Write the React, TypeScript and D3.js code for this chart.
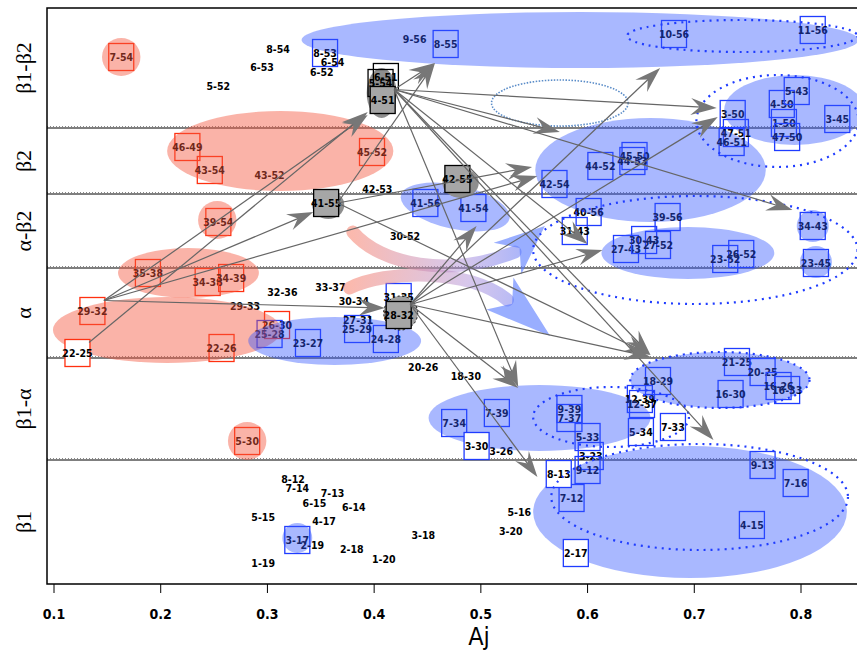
import React, { Component } from 'react';
import * as d3 from 'd3';

// y bands (bottom to top) and their edges in plot units
const bandNames = ['β1', 'β1-α', 'α', 'α-β2', 'β2', 'β1-β2'];
const bandEdges = [0, 12.4, 22.6, 31.6, 39.0, 45.6, 57.6];
const xTicks = [0.1, 0.2, 0.3, 0.4, 0.5, 0.6, 0.7, 0.8];

// boxed pairs: label, Aj, position, colour (r/b/k), fill ('' none, g grey, k grey layer, w white)
const boxes = [
  ['7-54', 0.163, 52.7, 'r', ''],
  ['8-53', 0.354, 53.1, 'b', ''],
  ['8-55', 0.467, 54.0, 'b', ''],
  ['10-56', 0.681, 55.0, 'b', ''],
  ['11-56', 0.811, 55.4, 'b', ''],
  ['3-50', 0.736, 47.0, 'b', ''],
  ['47-51', 0.739, 45.1, 'b', ''],
  ['46-51', 0.735, 44.2, 'b', ''],
  ['4-50', 0.782, 48.0, 'b', ''],
  ['5-43', 0.796, 49.3, 'b', ''],
  ['1-50', 0.784, 46.1, 'b', ''],
  ['47-50', 0.787, 44.7, 'b', ''],
  ['3-45', 0.834, 46.5, 'b', ''],
  ['46-49', 0.225, 43.7, 'r', ''],
  ['43-54', 0.246, 41.4, 'r', ''],
  ['45-52', 0.398, 43.2, 'r', ''],
  ['42-54', 0.569, 40.0, 'b', ''],
  ['44-52', 0.612, 41.8, 'b', ''],
  ['45-50', 0.644, 42.8, 'b', ''],
  ['44-53', 0.642, 42.3, 'b', ''],
  ['39-54', 0.254, 36.2, 'r', ''],
  ['41-56', 0.448, 38.1, 'b', ''],
  ['41-54', 0.493, 37.6, 'b', ''],
  ['31-43', 0.588, 35.3, 'b', ''],
  ['40-56', 0.601, 37.2, 'b', ''],
  ['39-56', 0.675, 36.7, 'b', ''],
  ['27-43', 0.636, 33.5, 'b', ''],
  ['30-43', 0.653, 34.4, 'b', ''],
  ['27-52', 0.666, 33.9, 'b', ''],
  ['23-52', 0.729, 32.5, 'b', ''],
  ['26-52', 0.744, 33.0, 'b', ''],
  ['34-43', 0.811, 35.8, 'b', ''],
  ['23-45', 0.814, 32.1, 'b', ''],
  ['35-38', 0.188, 31.1, 'r', ''],
  ['34-38', 0.244, 30.2, 'r', ''],
  ['34-39', 0.266, 30.6, 'r', ''],
  ['29-32', 0.136, 27.3, 'r', ''],
  ['22-25', 0.122, 23.1, 'r', 'w'],
  ['22-26', 0.257, 23.6, 'r', ''],
  ['26-30', 0.309, 25.9, 'r', ''],
  ['25-28', 0.302, 25.0, 'b', ''],
  ['23-27', 0.338, 24.1, 'b', ''],
  ['31-35', 0.423, 28.7, 'b', ''],
  ['25-29', 0.384, 25.5, 'b', ''],
  ['24-28', 0.411, 24.5, 'b', ''],
  ['5-30', 0.281, 14.3, 'r', ''],
  ['7-34', 0.475, 16.1, 'b', ''],
  ['7-39', 0.515, 17.1, 'b', ''],
  ['3-30', 0.496, 13.8, 'b', 'w'],
  ['21-25', 0.740, 22.2, 'b', ''],
  ['20-25', 0.764, 21.2, 'b', ''],
  ['18-29', 0.666, 20.3, 'b', ''],
  ['16-30', 0.734, 19.0, 'b', ''],
  ['16-26', 0.779, 19.8, 'b', ''],
  ['16-33', 0.787, 19.4, 'b', ''],
  ['12-39', 0.649, 18.5, 'b', ''],
  ['12-37', 0.651, 18.0, 'b', ''],
  ['9-39', 0.583, 17.5, 'b', ''],
  ['7-37', 0.583, 16.6, 'b', ''],
  ['5-33', 0.600, 14.7, 'b', ''],
  ['5-34', 0.650, 15.2, 'b', ''],
  ['7-33', 0.680, 15.7, 'b', ''],
  ['3-23', 0.603, 12.8, 'b', ''],
  ['9-12', 0.600, 11.4, 'b', ''],
  ['8-13', 0.573, 11.0, 'b', 'w'],
  ['7-12', 0.585, 8.6, 'b', ''],
  ['2-17', 0.589, 3.1, 'b', 'w'],
  ['9-13', 0.764, 11.9, 'b', ''],
  ['7-16', 0.795, 10.1, 'b', ''],
  ['4-15', 0.754, 5.9, 'b', ''],
  ['3-17', 0.328, 4.4, 'b', ''],
  ['6-51', 0.411, 50.7, 'k', 'k'],
  ['5-54', 0.406, 50.1, 'k', 'k'],
  ['4-51', 0.408, 48.4, 'k', 'g'],
  ['42-55', 0.478, 40.5, 'k', 'g'],
  ['41-55', 0.355, 38.1, 'k', 'g'],
  ['28-32', 0.423, 26.9, 'k', 'g'],
];

// pairs without a box
const labels = [
  ['8-54', 0.310, 53.5], ['6-53', 0.295, 51.7], ['5-52', 0.254, 49.8],
  ['6-54', 0.361, 52.2], ['6-52', 0.351, 51.2], ['9-56', 0.438, 54.5],
  ['4-52', 0.537, 48.8], ['3-52', 0.604, 47.4], ['43-52', 0.302, 40.9],
  ['42-53', 0.403, 39.5], ['30-52', 0.429, 34.8], ['32-36', 0.314, 29.2],
  ['33-37', 0.359, 29.7], ['29-33', 0.279, 27.8], ['30-34', 0.381, 28.3],
  ['27-31', 0.385, 26.4], ['20-26', 0.446, 21.7], ['18-30', 0.486, 20.8],
  ['3-26', 0.519, 13.3], ['8-12', 0.324, 10.5], ['7-14', 0.328, 9.6],
  ['7-13', 0.361, 9.1], ['6-15', 0.344, 8.1], ['6-14', 0.381, 7.7],
  ['5-15', 0.296, 6.7], ['4-17', 0.353, 6.3], ['2-19', 0.342, 3.9],
  ['2-18', 0.379, 3.5], ['1-20', 0.409, 2.5], ['1-19', 0.296, 2.1],
  ['3-18', 0.446, 4.9], ['5-16', 0.536, 7.2], ['3-20', 0.528, 5.3],
];

// group shading: Aj, position, half-width (Aj), half-height, kind, tilt
const groups = [
  [0.163, 52.7, 0.018, 1.9, 'red', 0],
  [0.312, 43.3, 0.106, 4.0, 'red', 0],
  [0.253, 36.4, 0.018, 1.9, 'red', 0],
  [0.226, 31.1, 0.066, 2.5, 'red', 0],
  [0.206, 25.4, 0.107, 3.3, 'red', 0],
  [0.281, 14.3, 0.018, 1.9, 'red', 0],
  [0.593, 54.4, 0.261, 2.8, 'blue', 0],
  [0.794, 47.4, 0.066, 3.5, 'blue', 0],
  [0.659, 41.4, 0.108, 5.2, 'blue', 0],
  [0.476, 37.7, 0.052, 2.2, 'blue', 12],
  [0.694, 33.1, 0.081, 2.6, 'blue', 0],
  [0.811, 35.8, 0.015, 1.6, 'blue', 0],
  [0.814, 32.2, 0.015, 1.6, 'blue', 0],
  [0.363, 24.3, 0.081, 2.4, 'blue', 0],
  [0.555, 16.6, 0.104, 3.3, 'blue', 0],
  [0.724, 20.4, 0.084, 2.8, 'blue', 0],
  [0.696, 7.2, 0.147, 6.6, 'blue', 0],
  [0.328, 4.6, 0.014, 1.5, 'blue', 0],
];
const dottedRings = [
  [0.745, 54.8, 0.108, 1.6],
  [0.778, 46.3, 0.076, 4.6],
  [0.701, 33.4, 0.152, 5.4],
  [0.622, 16.7, 0.073, 3.0],
  [0.724, 20.4, 0.084, 2.8],
  [0.705, 8.7, 0.139, 5.3],
];
const skyRing = [0.574, 48.1, 0.064, 2.3];
const greyBlobs = [
  [0.407, 49.1, 0.014, 2.5],
  [0.481, 40.1, 0.017, 1.5],
  [0.357, 37.9, 0.015, 1.4],
];

// transitions: from pair, arrow tip (Aj, position)
const arrows = [
  ['22-25', 0.394, 47.2], ['29-32', 0.394, 46.9], ['29-32', 0.343, 37.2],
  ['29-32', 0.553, 40.8], ['29-32', 0.410, 27.6],
  ['41-55', 0.457, 52.1], ['41-55', 0.548, 41.7], ['41-55', 0.659, 22.9],
  ['4-51', 0.457, 52.1], ['4-51', 0.721, 47.6], ['4-51', 0.574, 45.2],
  ['4-51', 0.792, 37.4], ['4-51', 0.600, 34.0], ['4-51', 0.659, 22.9],
  ['4-51', 0.535, 19.7], ['4-51', 0.718, 14.4],
  ['28-32', 0.496, 35.8], ['28-32', 0.668, 51.6], ['28-32', 0.722, 46.7],
  ['28-32', 0.614, 33.4], ['28-32', 0.659, 22.7], ['28-32', 0.535, 19.6],
  ['28-32', 0.553, 10.7],
];

// two broad shift arrows: start, control1, control2, end, tip
const shiftUpper = [[0.380, 35.2], [0.406, 31.9], [0.471, 30.6], [0.532, 33.2], [0.560, 35.8]];
const shiftLower = [[0.377, 29.6], [0.410, 31.4], [0.490, 31.6], [0.525, 28.4], [0.565, 24.8]];

class App extends Component {
  svgRef = React.createRef();

  componentDidMount() {
    this.renderChart();
  }

  componentDidUpdate() {
    this.renderChart();
  }

  renderChart() {
    const width = 857, height = 650;
    const plot = { left: 47, top: 8, bottom: 584 };
    const svg = d3.select(this.svgRef.current).attr('width', width).attr('height', height);
    svg.selectAll('*').remove();

    const x = d3.scaleLinear().domain([0.1, 0.8]).range([54, 801]);
    const y = d3.scaleLinear().domain([0, bandEdges[bandEdges.length - 1]]).range([plot.bottom, plot.top]);
    const kx = x(1) - x(0), ky = y(0) - y(1);
    const font = "'Liberation Sans Narrow', 'DejaVu Sans Condensed', 'Liberation Sans', sans-serif";
    const bw = 25, bh = 27;
    const strokeOf = { r: '#ff3010', b: '#1f3cff', k: '#000' };

    const defs = svg.append('defs');

    // frame and band separators
    bandEdges.slice(1, -1).forEach(e => {
      svg.append('line').attr('x1', plot.left).attr('x2', width).attr('y1', y(e) - 1.5).attr('y2', y(e) - 1.5)
        .attr('stroke', '#888').attr('stroke-dasharray', '1 2');
      svg.append('line').attr('x1', plot.left).attr('x2', width).attr('y1', y(e)).attr('y2', y(e))
        .attr('stroke', '#000').attr('stroke-width', 1.2);
    });
    svg.append('path')
      .attr('d', `M${width},${plot.top}H${plot.left}V${plot.bottom}H${width}`)
      .attr('fill', 'none').attr('stroke', '#000').attr('stroke-width', 1.5);

    // x axis
    xTicks.forEach(t => {
      svg.append('line').attr('x1', x(t)).attr('x2', x(t)).attr('y1', plot.bottom).attr('y2', plot.bottom + 9)
        .attr('stroke', '#000');
      svg.append('text').attr('x', x(t)).attr('y', 619).attr('text-anchor', 'middle')
        .style('font-family', font).style('font-weight', 'bold').style('font-size', '14px').text(t.toFixed(1));
    });
    svg.append('text').attr('x', 479).attr('y', 645).attr('text-anchor', 'middle')
      .style('font-family', font).style('font-size', '25px').text('Aj');

    // band names
    bandNames.forEach((n, i) => {
      const cy = y((bandEdges[i] + bandEdges[i + 1]) / 2);
      svg.append('text').attr('transform', `translate(23,${cy}) rotate(-90)`)
        .attr('text-anchor', 'middle').attr('dominant-baseline', 'central')
        .style('font-family', "'Liberation Serif', 'DejaVu Serif', serif").style('font-size', '22px').text(n);
    });

    const boxText = (g, label, cx, cy) =>
      g.append('text').attr('x', cx).attr('y', cy + 3.5).attr('text-anchor', 'middle')
        .style('font-family', font).style('font-weight', 'bold').style('font-size', '10.5px').attr('fill', '#000').text(label);

    // plain boxes and labels (shaded over later)
    const base = svg.append('g');
    boxes.filter(b => b[4] === '').forEach(([label, ax, ay, c]) => {
      const cx = x(ax), cy = y(ay);
      base.append('rect').attr('x', cx - bw / 2).attr('y', cy - bh / 2).attr('width', bw).attr('height', bh)
        .attr('fill', 'none').attr('stroke', strokeOf[c]).attr('stroke-width', 1.3);
      boxText(base, label, cx, cy);
    });
    labels.forEach(([label, ax, ay]) => boxText(base, label, x(ax), y(ay)));

    // group shading
    const ell = (g, cx, cy, rx, ry, tilt) => g.append('ellipse')
      .attr('cx', x(cx)).attr('cy', y(cy)).attr('rx', rx * kx).attr('ry', ry * ky)
      .attr('transform', tilt ? `rotate(${tilt},${x(cx)},${y(cy)})` : null);
    const shade = svg.append('g');
    groups.forEach(([cx, cy, rx, ry, kind, tilt]) => {
      ell(shade, cx, cy, rx, ry, tilt)
        .attr('fill', kind === 'red' ? '#f4573d' : '#3355ff')
        .attr('fill-opacity', kind === 'red' ? 0.45 : 0.42);
    });
    ell(svg, ...skyRing, 0).attr('fill', '#fff').attr('stroke', '#5a8cc8').attr('stroke-width', 1.6)
      .attr('stroke-dasharray', '1.5 1.5');

    // broad shift arrows
    [shiftUpper, shiftLower].forEach((pts, i) => {
      const p = pts.map(([a, b]) => [x(a), y(b)]);
      const id = `shift${i}`;
      const grad = defs.append('linearGradient').attr('id', id).attr('gradientUnits', 'userSpaceOnUse')
        .attr('x1', p[0][0]).attr('y1', p[0][1]).attr('x2', p[4][0]).attr('y2', p[4][1]);
      grad.append('stop').attr('offset', '0%').attr('stop-color', '#f7806c').attr('stop-opacity', 0.55);
      grad.append('stop').attr('offset', '55%').attr('stop-color', '#b090d8').attr('stop-opacity', 0.5);
      grad.append('stop').attr('offset', '100%').attr('stop-color', '#5578ff').attr('stop-opacity', 0.6);
      svg.append('path')
        .attr('d', `M${p[0]}C${p[1]} ${p[2]} ${p[3]}`)
        .attr('fill', 'none').attr('stroke', `url(#${id})`).attr('stroke-width', 13).attr('stroke-linecap', 'round');
      const [ex, ey] = p[3], [tx, ty] = p[4];
      const len = Math.hypot(tx - ex, ty - ey), ux = (tx - ex) / len, uy = (ty - ey) / len;
      const w = 21;
      const head = [
        [tx, ty],
        [ex - ux * 10 - uy * w, ey - uy * 10 + ux * w],
        [ex + ux * 6, ey + uy * 6],
        [ex - ux * 10 + uy * w, ey - uy * 10 - ux * w],
      ];
      svg.append('polygon').attr('points', head.map(d => d.join(',')).join(' '))
        .attr('fill', '#5578ff').attr('fill-opacity', 0.6);
    });

    // grey states
    const grey = svg.append('g');
    greyBlobs.forEach(([cx, cy, rx, ry]) => ell(grey, cx, cy, rx, ry, 0).attr('fill', '#8e8e8e'));
    const ring = boxes.find(b => b[0] === '28-32');
    grey.append('circle').attr('cx', x(ring[1]) + 2).attr('cy', y(ring[2]) - 2).attr('r', 17)
      .attr('fill', '#a0a0a0').attr('stroke', '#000').attr('stroke-dasharray', '2 2.5');
    boxes.filter(b => b[4] !== '').forEach(([label, ax, ay, c, f]) => {
      const cx = x(ax), cy = y(ay);
      grey.append('rect').attr('x', cx - bw / 2).attr('y', cy - bh / 2).attr('width', bw).attr('height', bh)
        .attr('fill', f === 'g' ? '#a6a6a6' : f === 'w' ? '#fff' : 'none')
        .attr('stroke', strokeOf[c]).attr('stroke-width', 1.3);
      boxText(grey, label, cx, cy);
    });

    // dotted group rings
    dottedRings.forEach(([cx, cy, rx, ry]) => ell(svg, cx, cy, rx, ry, 0)
      .attr('fill', 'none').attr('stroke', '#1f3cff').attr('stroke-width', 2.2).attr('stroke-dasharray', '2 5'));

    // transition arrows
    const arrowG = svg.append('g');
    arrows.forEach(([from, ax, ay]) => {
      const b = boxes.find(d => d[0] === from);
      const sx = x(b[1]) + bw / 2 - 1, sy = y(b[2]) - (from === '41-55' ? 0 : bh / 2 - 3);
      const tx = x(ax), ty = y(ay);
      const len = Math.hypot(tx - sx, ty - sy), ux = (tx - sx) / len, uy = (ty - sy) / len;
      const L = 26, w = 8.5;
      arrowG.append('line').attr('x1', sx).attr('y1', sy).attr('x2', tx - ux * L * 0.6).attr('y2', ty - uy * L * 0.6)
        .attr('stroke', '#666').attr('stroke-width', 1.2);
      const head = [
        [tx, ty],
        [tx - ux * L - uy * w, ty - uy * L + ux * w],
        [tx - ux * L * 0.65, ty - uy * L * 0.65],
        [tx - ux * L + uy * w, ty - uy * L - ux * w],
      ];
      arrowG.append('polygon').attr('points', head.map(d => d.join(',')).join(' ')).attr('fill', '#777');
    });
  }

  render() {
    return (
      <svg ref={this.svgRef} style={{ position: 'absolute', left: 0, top: 0, background: '#fff' }} />
    );
  }
}

export default App;
